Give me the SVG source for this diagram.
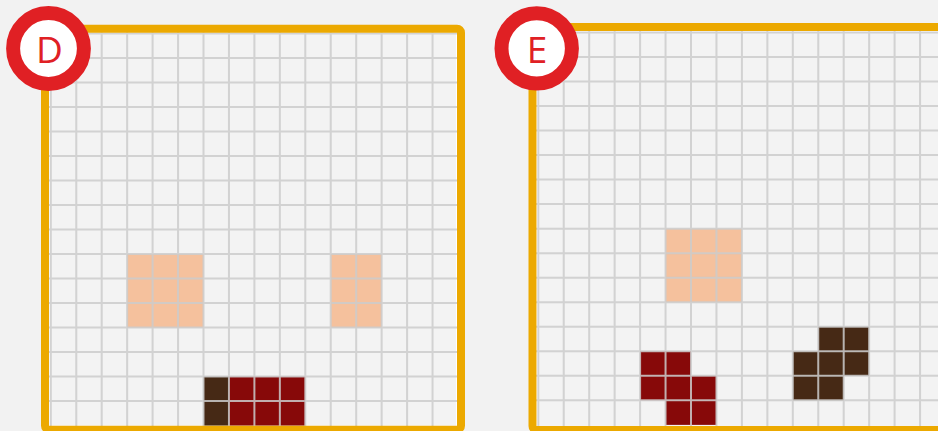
<svg xmlns="http://www.w3.org/2000/svg" width="938" height="431" viewBox="0 0 938 431">
<style>
.bg{fill:#f3f3f3;stroke:#ffffff;stroke-width:2}
.grid{fill:none;stroke:#cbcbcb;stroke-width:2;stroke-opacity:0.85}
.frame{fill:none;stroke:#eca900;stroke-width:8}
.peach{fill:#f5c19d}
.red{fill:#870909}
.brown{fill:#462915}
.ring{fill:#ffffff;stroke:#e02024;stroke-width:14}
.lbl{font-family:"Open Sans","Noto Sans","Liberation Sans",sans-serif;font-size:37px;fill:#e02024;text-anchor:middle}
</style>
<rect width="938" height="431" fill="#f2f2f2"/>
<g id="panel-D">
<rect class="bg" x="49" y="32.5" width="408" height="394"/>
<rect class="peach" x="127.15" y="254.1" width="76.35" height="73.5"/>
<rect class="peach" x="330.75" y="254.1" width="50.9" height="73.5"/>
<rect class="brown" x="203.5" y="376.6" width="25.45" height="49"/>
<rect class="red" x="228.95" y="376.6" width="76.35" height="49"/>
<path class="grid" d="M50.8 32V427M76.25 32V427M101.7 32V427M127.15 32V427M152.6 32V427M178.05 32V427M203.5 32V427M228.95 32V427M254.4 32V427M279.85 32V427M305.3 32V427M330.75 32V427M356.2 32V427M381.65 32V427M407.1 32V427M432.55 32V427M49 33.6H457M49 58.1H457M49 82.6H457M49 107.1H457M49 131.6H457M49 156.1H457M49 180.6H457M49 205.1H457M49 229.6H457M49 254.1H457M49 278.6H457M49 303.1H457M49 327.6H457M49 352.1H457M49 376.6H457M49 401.1H457"/>
<rect class="frame" x="45" y="28.7" width="416" height="401" rx="4"/>
</g>
<g id="panel-E">
<rect class="bg" x="537" y="31" width="410" height="396"/>
<rect class="peach" x="665.55" y="228.64" width="76.35" height="73.59"/>
<rect class="red" x="640.1" y="351.29" width="50.9" height="24.53"/>
<rect class="red" x="640.1" y="375.82" width="76.35" height="24.53"/>
<rect class="red" x="665.55" y="400.35" width="50.9" height="24.53"/>
<rect class="brown" x="818.25" y="326.76" width="50.9" height="24.53"/>
<rect class="brown" x="792.8" y="351.29" width="76.35" height="24.53"/>
<rect class="brown" x="792.8" y="375.82" width="50.9" height="24.53"/>
<path class="grid" d="M538.3 31V427M563.75 31V427M589.2 31V427M614.65 31V427M640.1 31V427M665.55 31V427M691 31V427M716.45 31V427M741.9 31V427M767.35 31V427M792.8 31V427M818.25 31V427M843.7 31V427M869.15 31V427M894.6 31V427M920.05 31V427M536 32.4H938M536 56.93H938M536 81.46H938M536 105.99H938M536 130.52H938M536 155.05H938M536 179.58H938M536 204.11H938M536 228.64H938M536 253.17H938M536 277.7H938M536 302.23H938M536 326.76H938M536 351.29H938M536 375.82H938M536 400.35H938"/>
<rect class="frame" x="532.5" y="27" width="416" height="403" rx="4"/>
</g>
<g id="badge-D">
<circle class="ring" cx="48.5" cy="48.5" r="35.4"/>
<text class="lbl" x="49.5" y="62.7">D</text>
</g>
<g id="badge-E">
<circle class="ring" cx="536.7" cy="48.4" r="35.2"/>
<text class="lbl" x="537" y="62.7">E</text>
</g>
<g id="connectors"/>
</svg>
